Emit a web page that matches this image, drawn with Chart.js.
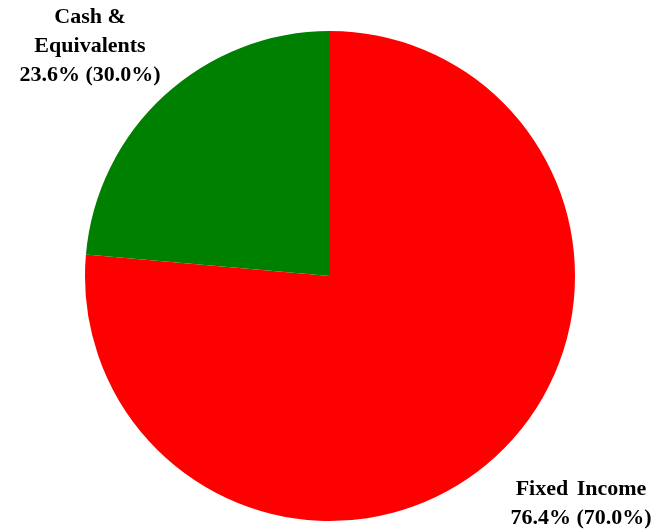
<!DOCTYPE html>
<html><head><meta charset="utf-8">
<script src="https://cdn.jsdelivr.net/npm/chart.js@4"></script>
<style>html,body{margin:0;padding:0;background:#fff}#wrap{width:660px;height:529px}</style>
</head><body><div id="wrap"><canvas id="c" width="660" height="529"></canvas></div>
<script>
const categories = ["Fixed Income", "Cash & Equivalents"];
const actualPct = [76.4, 23.6];
const targetPct = [70.0, 30.0];
const colors = ["#ff0000", "#008000"];
const labelLines = [
  ["Fixed Income", "76.4% (70.0%)"],
  ["Cash &", "Equivalents", "23.6% (30.0%)"]
];
const labelAnchors = [ {x: 581, y: 489}, {x: 90, y: 17} ];

const labelPlugin = {
  id: 'labels',
  afterDraw(chart) {
    const ctx = chart.ctx;
    ctx.save();
    ctx.font = 'bold 22px "Liberation Serif", serif';
    ctx.fillStyle = '#000';
    ctx.textAlign = 'center';
    ctx.textBaseline = 'middle';
    labelLines.forEach((lines, i) => {
      const a = labelAnchors[i];
      lines.forEach((t, j) => {
        ctx.wordSpacing = (i === 0 && j === 0) ? '3px' : '0px';
        ctx.fillText(t, a.x, a.y + j * 29);
      });
    });
    ctx.restore();
  }
};

new Chart(document.getElementById('c'), {
  type: 'pie',
  data: { labels: categories, datasets: [{ data: actualPct, backgroundColor: colors, borderWidth: 0 }] },
  options: {
    responsive: false, animation: false,
    layout: { padding: { top: 31, bottom: 8, left: 0, right: 0 } },
    plugins: { legend: { display: false }, tooltip: { enabled: false } }
  },
  plugins: [labelPlugin]
});
</script></body></html>
